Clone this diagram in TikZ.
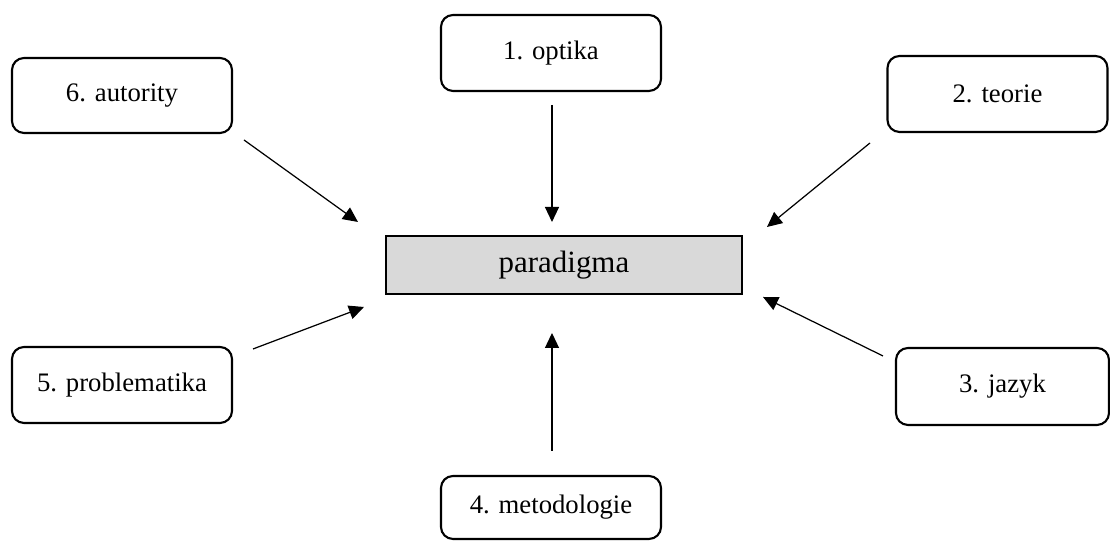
\documentclass[tikz,border=0pt]{standalone}
\usepackage{fontspec}
\setmainfont{Liberation Serif}
\usetikzlibrary{arrows.meta}

\begin{document}
\begin{tikzpicture}[
        part/.style = {draw, line width=0.6pt,
            rounded corners=0.12cm,
            minimum width=2.2cm,
            font=\fontsize{7.6}{9}\selectfont},
        core/.style = {draw, line width=0.6pt,
            fill=gray!30,
            minimum width=3.56cm, minimum height=0.58cm,
            font=\fontsize{8.8}{10}\selectfont},
        link/.style = {line width=0.35pt,
            -{Triangle[length=1.5mm, width=1.4mm]}}]

    \useasboundingbox (0,0) rectangle (11.1,5.41);

    % Paradigma
    \node[core] (paradigma) at (5.64,2.76) {paradigma};

    % Parts
    \node[part, minimum height=0.76cm] (optika) at (5.51,4.88) {1. optika};
    \node[part, minimum height=0.76cm] (teorie) at (9.975,4.47) {2. teorie};
    \node[part, minimum width=2.13cm, minimum height=0.77cm] (jazyk) at (10.025,1.545) {3. jazyk};
    \node[part, minimum height=0.63cm] (metodologie) at (5.51,0.335) {4. metodologie};
    \node[part, minimum height=0.76cm] (problematika) at (1.22,1.56) {5. problematika};
    \node[part, minimum height=0.75cm] (autority) at (1.22,4.455) {6. autority};

    % Arrow ends
    \coordinate (optika-out) at (5.52,4.36);
    \coordinate (optika-in) at (5.52,3.19);
    \coordinate (teorie-out) at (8.70,3.98);
    \coordinate (teorie-in) at (7.67,3.14);
    \coordinate (jazyk-out) at (8.83,1.85);
    \coordinate (jazyk-in) at (7.63,2.44);
    \coordinate (metodologie-out) at (5.52,0.90);
    \coordinate (metodologie-in) at (5.52,2.08);
    \coordinate (problematika-out) at (2.53,1.92);
    \coordinate (problematika-in) at (3.64,2.34);
    \coordinate (autority-out) at (2.44,4.01);
    \coordinate (autority-in) at (3.58,3.19);

    % Arrows
    \foreach \p in {optika,teorie,jazyk,metodologie,problematika,autority}
        \draw[link] (\p-out) -- (\p-in);

\end{tikzpicture}
\end{document}
